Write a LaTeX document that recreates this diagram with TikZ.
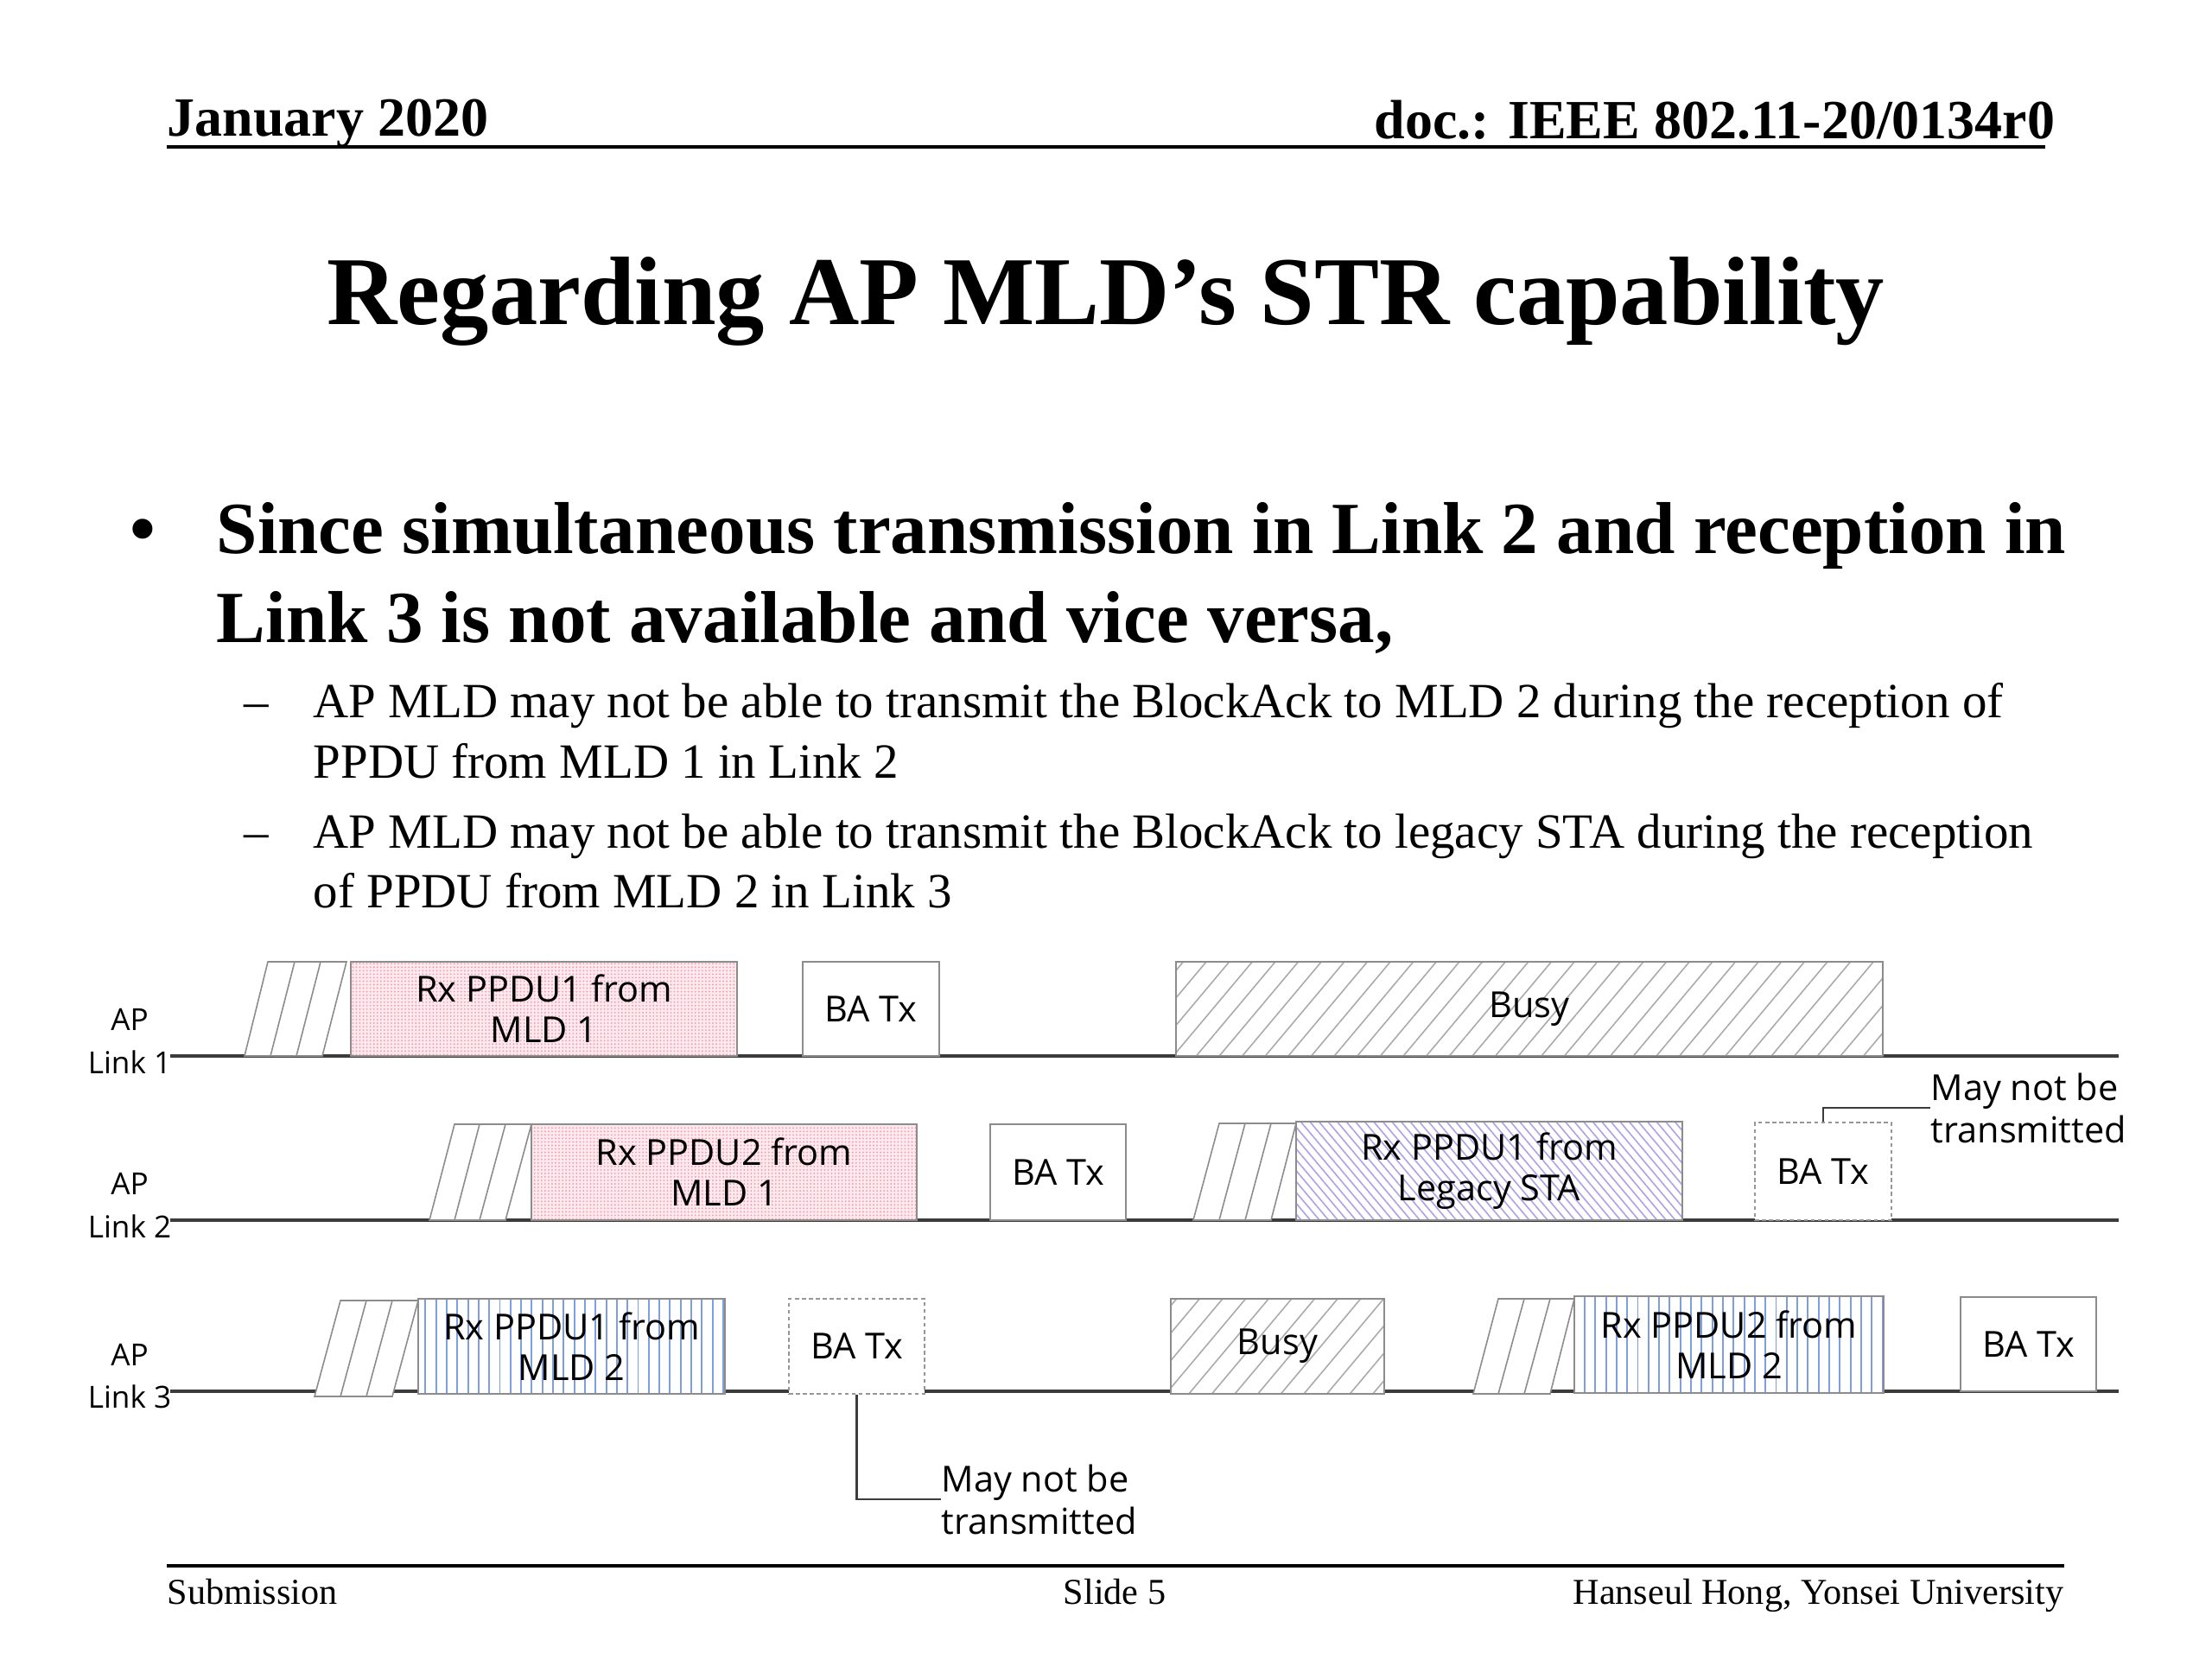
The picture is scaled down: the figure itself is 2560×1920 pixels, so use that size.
\documentclass[tikz,border=0pt]{standalone}
\usepackage{fontspec}
\setmainfont{Liberation Serif}
\newfontfamily\lsans{Open Sans}
\usetikzlibrary{fit,patterns.meta}
\definecolor{linedark}{RGB}{60,60,60}
\definecolor{boxgray}{RGB}{140,140,140}
\definecolor{pinkbg}{RGB}{253,234,238}
\definecolor{pinkdot}{RGB}{242,160,175}
\definecolor{hatchgray}{RGB}{170,170,170}
\definecolor{lav}{RGB}{172,162,232}
\definecolor{bluestripe}{RGB}{125,158,225}
\definecolor{dashgray}{RGB}{150,150,150}
\tikzset{
  tl/.style={draw=linedark, line width=1.1pt},
  rule/.style={draw=black, line width=0.9pt},
  boxbase/.style={draw=boxgray, line width=0.55pt, inner sep=0pt},
  boxlab/.style={inner sep=0pt, anchor=center, align=center,
    font=\lsans\fontsize{11.8}{13.4}\selectfont},
  whitebox/.style={boxbase, fill=white},
  pinkbox/.style={boxbase, preaction={fill=pinkbg},
    pattern={Dots[distance=1.15pt, radius=0.3pt]}, pattern color=pinkdot},
  busybox/.style={boxbase, preaction={fill=white},
    pattern={Lines[angle=50, distance=5.8pt, line width=0.45pt]}, pattern color=hatchgray},
  legacybox/.style={boxbase, preaction={fill=white},
    pattern={Lines[angle=-50, distance=2.3pt, line width=0.45pt]}, pattern color=lav},
  bluebox/.style={boxbase, preaction={fill=white},
    pattern={Lines[angle=90, distance=3.5pt, line width=0.55pt]}, pattern color=bluestripe},
  dashbox/.style={boxbase, draw=dashgray, fill=white, dash pattern=on 1.3pt off 1pt},
  slot/.style={draw=boxgray, line width=0.45pt, fill=white},
  callout/.style={draw=linedark, line width=0.8pt},
  note/.style={inner sep=0pt, anchor=west, align=left,
    font=\lsans\fontsize{11.8}{13.9}\selectfont},
  aplab/.style={inner sep=0pt, anchor=south, align=center,
    font=\lsans\fontsize{10}{14.2}\selectfont},
  hdr/.style={inner sep=0pt, font=\bfseries\fontsize{18.2}{22}\selectfont},
  ftr/.style={inner sep=0pt, font=\fontsize{12}{14}\selectfont},
  bul/.style={inner sep=0pt, font=\bfseries\fontsize{24.2}{29}\selectfont},
  sub/.style={inner sep=0pt, font=\fontsize{16.2}{19.6}\selectfont},
}
\begin{document}
\begin{tikzpicture}[x=0.01cm, y=-0.01cm]
\fill[white] (0,0) rectangle (2560,1920);
\useasboundingbox (0,0) rectangle (2560,1920);

% header
\node[hdr, anchor=base west] (hd1) at (193,157) {January 2020};
\node[hdr, anchor=base east] (hd2) at (2379,160) {doc.: IEEE 802.11-20/0134r0};
\coordinate (hl1) at (193,170); \coordinate (hl2) at (2367,170);
\draw[rule] (hl1) -- (hl2);

% title
\node[inner sep=0pt, anchor=base, font=\bfseries\fontsize{32}{38}\selectfont] (title) at (1280,375) {Regarding AP MLD’s STR capability};

% bullets
\node[bul, anchor=base] (bdot) at (165,640) {•};
\node[bul, anchor=base west] (bl1) at (250,640) {Since simultaneous transmission in Link 2 and reception in};
\node[bul, anchor=base west] (bl2) at (250,743) {Link 3 is not available and vice versa,};
\node[sub, anchor=base] (d1) at (297,830) {–};
\node[sub, anchor=base west] (s1a) at (362,830) {AP MLD may not be able to transmit the BlockAck to MLD 2 during the reception of};
\node[sub, anchor=base west] (s1b) at (362,900) {PPDU from MLD 1 in Link 2};
\node[sub, anchor=base] (d2) at (297,981) {–};
\node[sub, anchor=base west] (s2a) at (362,981) {AP MLD may not be able to transmit the BlockAck to legacy STA during the reception};
\node[sub, anchor=base west] (s2b) at (362,1050) {of PPDU from MLD 2 in Link 3};

% timelines
\coordinate (l1s) at (197,1222); \coordinate (l1e) at (2452,1222);
\coordinate (l2s) at (197,1412); \coordinate (l2e) at (2452,1412);
\coordinate (l3s) at (197,1610); \coordinate (l3e) at (2452,1610);
\draw[tl] (l1s) -- (l1e);
\draw[tl] (l2s) -- (l2e);
\draw[tl] (l3s) -- (l3e);

\node[aplab] (ap1) at (150,1243) {AP\\Link 1};
\node[aplab] (ap2) at (150,1433) {AP\\Link 2};
\node[aplab] (ap3) at (150,1631) {AP\\Link 3};

% ---- Link 1
\filldraw[slot] (283,1222) -- (310,1113) -- (401,1113) -- (373,1222) -- cycle;
\draw[slot] (313,1222) -- (341,1113) (343,1222) -- (371,1113);
\node[pinkbox, fit={(406,1113) (853,1222)}] (n1a) {};
\node[boxlab] (n1at) at (n1a.center) {Rx PPDU1 from\\MLD 1};
\node[whitebox, fit={(929,1113) (1087,1222)}] (n1b) {};
\node[boxlab] (n1bt) at (n1b.center) {BA Tx};
\node[busybox, fit={(1361,1113) (2179,1222)}] (n1c) {};
\node[boxlab] (n1ct) at (n1c.center) {Busy};

% ---- Link 2
\filldraw[slot] (497,1412) -- (526,1301) -- (615,1301) -- (585,1412) -- cycle;
\draw[slot] (526,1412) -- (555,1301) (555,1412) -- (585,1301);
\node[pinkbox, fit={(615,1301) (1061,1412)}] (n2a) {};
\node[boxlab] (n2at) at (n2a.center) {Rx PPDU2 from\\MLD 1};
\node[whitebox, fit={(1146,1301) (1303,1412)}] (n2b) {};
\node[boxlab] (n2bt) at (n2b.center) {BA Tx};
\filldraw[slot] (1381,1412) -- (1411,1300) -- (1500,1300) -- (1471,1412) -- cycle;
\draw[slot] (1411,1412) -- (1441,1300) (1441,1412) -- (1471,1300);
\node[legacybox, fit={(1500,1298) (1947,1412)}] (n2c) {};
\node[boxlab] (n2ct) at (n2c.center) {Rx PPDU1 from\\Legacy STA};
\node[dashbox, fit={(2031,1299) (2189,1412)}] (n2d) {};
\node[boxlab] (n2dt) at (n2d.center) {BA Tx};
\node[note] (m1) at (2234,1282) {May not be\\transmitted};
\draw[callout] (n2d.north) |- (m1.west);

% ---- Link 3
\filldraw[slot] (364,1616) -- (394,1505) -- (484,1505) -- (454,1616) -- cycle;
\draw[slot] (394,1616) -- (424,1505) (424,1616) -- (454,1505);
\node[bluebox, fit={(484,1503) (839,1613)}] (n3a) {};
\node[boxlab] (n3at) at (n3a.center) {Rx PPDU1 from\\MLD 2};
\node[dashbox, fit={(913,1503) (1070,1613)}] (n3b) {};
\node[boxlab] (n3bt) at (n3b.center) {BA Tx};
\node[note] (m2) at (1089,1735) {May not be\\transmitted};
\draw[callout] (n3b.south) |- (m2.west);
\node[busybox, fit={(1355,1503) (1602,1613)}] (n3c) {};
\node[boxlab] (n3ct) at (n3c.center) {Busy};
\filldraw[slot] (1705,1613) -- (1734,1503) -- (1822,1503) -- (1794,1613) -- cycle;
\draw[slot] (1734,1613) -- (1764,1503) (1764,1613) -- (1794,1503);
\node[bluebox, fit={(1822,1500) (2180,1612)}] (n3d) {};
\node[boxlab] (n3dt) at (n3d.center) {Rx PPDU2 from\\MLD 2};
\node[whitebox, fit={(2269,1501) (2426,1610)}] (n3e) {};
\node[boxlab] (n3et) at (n3e.center) {BA Tx};

% footer
\coordinate (fl1) at (193,1812); \coordinate (fl2) at (2389,1812);
\draw[rule] (fl1) -- (fl2);
\node[ftr, anchor=base west] (f1) at (193,1856) {Submission};
\node[ftr, anchor=base] (f2) at (1290,1856) {Slide 5};
\node[ftr, anchor=base east] (f3) at (2389,1856) {Hanseul Hong, Yonsei University};
\end{tikzpicture}
\end{document}
